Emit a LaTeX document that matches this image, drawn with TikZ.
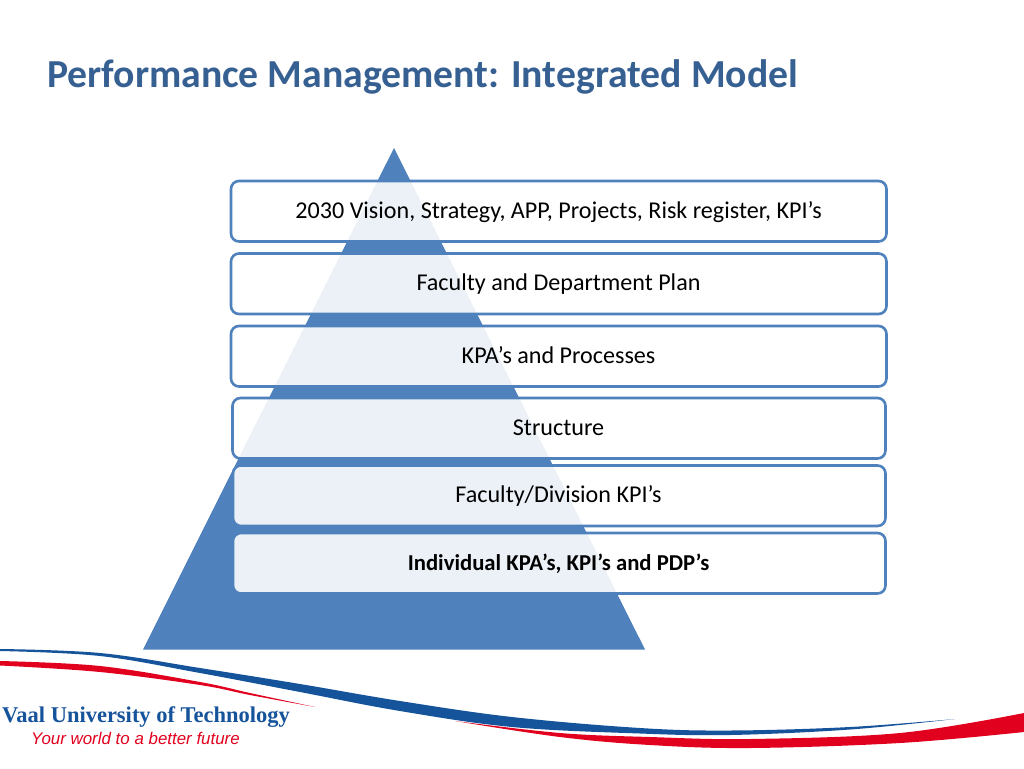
\documentclass[tikz,border=0pt]{standalone}
\usepackage{fontspec}
\setmainfont{Carlito}
\newfontfamily\logoserif{Liberation Serif}
\newfontfamily\logosans{Liberation Sans}
\definecolor{pyr}{HTML}{4F81BD}
\definecolor{ttl}{HTML}{376092}
\definecolor{vutblue}{HTML}{15539B}
\definecolor{vutred}{HTML}{E2001F}
\tikzset{
  tier/.style={draw=pyr,line width=2.6pt,rounded corners=8pt,fill=white,fill opacity=.89,text opacity=1},
  tierlabel/.style={text=black,font=\fontsize{24.1}{28}\selectfont,anchor=base,inner sep=0pt}
}
\begin{document}
\begin{tikzpicture}[x=1pt,y=-1pt]
\useasboundingbox (0,0) rectangle (1024,768);
\fill[white] (0,0) rectangle (1024,768);
\node[anchor=base west,inner sep=0pt,text=ttl,font=\fontsize{39.7}{46}\selectfont\bfseries] (title) at (47,87.5) {Performance Management: Integrated Model};
\fill[pyr] (394,148) -- (645,649.5) -- (143,649.5) -- cycle;
\draw[tier] (231,181) rectangle (886.5,241.5);
\draw[tier] (231,253.5) rectangle (886.5,314);
\draw[tier] (231,326) rectangle (886.5,386.5);
\draw[tier] (232.5,398) rectangle (885.5,458.5);
\draw[tier] (233,465.5) rectangle (885.5,526);
\draw[tier] (233,533) rectangle (885.5,593.5);
\node[tierlabel] (t1) at (558.5,218) {2030 Vision, Strategy, APP, Projects, Risk register, KPI’s};
\node[tierlabel] (t2) at (558.5,290.5) {Faculty and Department Plan};
\node[tierlabel] (t3) at (558.5,363) {KPA’s and Processes};
\node[tierlabel] (t4) at (558.5,435) {Structure};
\node[tierlabel] (t5) at (558.5,502.5) {Faculty/Division KPI’s};
\node[tierlabel,font=\fontsize{22.7}{26}\selectfont\bfseries] (t6) at (558.5,570) {Individual KPA’s, KPI’s and PDP’s};
% swooshes
\fill[vutblue] plot[smooth,tension=.6] coordinates {(0,649) (100,653) (200,668) (300,684) (400,701) (512,717) (640,728) (730,730.5) (850,727) (955,719)}
  -- plot[smooth,tension=.6] coordinates {(955,719) (850,729.5) (730,735) (640,733.5) (512,727) (400,711) (300,692) (200,673) (100,656) (0,651)} -- cycle;
\fill[vutred] plot[smooth,tension=.6] coordinates {(0,661) (100,666) (200,682) (250,693) (315,707)}
  -- plot[smooth,tension=.6] coordinates {(315,707) (250,695) (200,685) (100,672) (0,665.5)} -- cycle;
\fill[vutred] plot[smooth,tension=.6] coordinates {(455,721) (560,733) (650,737) (750,739) (900,733) (1024,713)}
  -- plot[smooth,tension=.6] coordinates {(1024,732) (900,743) (750,748) (650,745) (560,737) (455,721)} -- cycle;
\node[anchor=base west,inner sep=0pt,text=vutblue,font=\logoserif\bfseries\fontsize{22.5}{24}\selectfont] (logo) at (2,722.5) {Vaal University of Technology};
\node[anchor=base west,inner sep=0pt,text=vutred,font=\logosans\itshape\fontsize{16.9}{18}\selectfont] (tag) at (31,744.5) {Your world to a better future};
\end{tikzpicture}
\end{document}
